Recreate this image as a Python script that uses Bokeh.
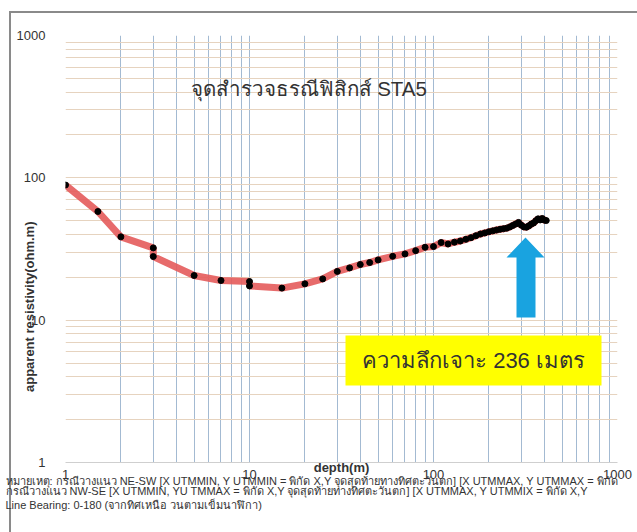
from bokeh.plotting import figure
from bokeh.models import (Label, BoxAnnotation, PolyAnnotation, FixedTicker,
                          Title)
from bokeh.embed import file_html
from bokeh.resources import INLINE

# VES sounding STA5: electrode spacing / depth (m) vs apparent resistivity (ohm.m)
depth = [1, 1.5, 2, 3, 3, 5, 7, 10, 10, 15, 20, 25, 30, 35, 40, 45, 50, 60, 70,
         80, 90, 100, 110, 120, 130, 140, 150, 160, 170, 180, 190, 200, 210,
         220, 230, 240, 250, 260, 270, 280, 290, 300, 310, 320, 330, 340, 350,
         360, 370, 380, 390, 400, 410]
resistivity = [89, 58, 38.5, 32.2, 28.0, 20.6, 19.0, 18.7, 17.4, 16.8, 18.0,
               19.5, 22.0, 23.3, 24.6, 25.4, 26.5, 28.1, 29.2, 30.8, 32.5, 32.9,
               35.1, 34.3, 35.3, 36.0, 37.0, 38.0, 39.2, 40.3, 41.0, 41.8, 42.4,
               43.0, 43.5, 43.9, 44.3, 45.2, 46.3, 47.4, 48.6, 46.5, 45.2, 45.0,
               46.0, 47.3, 48.2, 50.0, 51.5, 50.6, 51.8, 50.5, 50.1]

major_ticks = [1, 10, 100, 1000]
tick_labels = {1: "1", 10: "10", 100: "100", 1000: "1000"}

title_text = "จุดสำรวจธรณีฟิสิกส์ STA5"
drill_text = "ความลึกเจาะ 236 เมตร"
x_title = "depth(m)"
y_title = "apparent resistivity(ohm.m)"
notes = [
    "หมายเหตุ: กรณีวางแนว NE-SW [X UTMMIN, Y UTMMIN = พิกัด X,Y จุดสุดท้ายทางทิศตะวันตก]  [X UTMMAX, Y UTMMAX = พิกัด",
    "กรณีวางแนว NW-SE [X UTMMIN, YU TMMAX = พิกัด X,Y จุดสุดท้ายทางทิศตะวันตก]  [X UTMMAX, Y UTMMIX = พิกัด X,Y",
    "Line Bearing: 0-180 (จากทิศเหนือ วนตามเข็มนาฬิกา)",
]

FONT = "Liberation Sans"
FRAME_GREY = "#8a8a8a"
NBSP = "\u00a0"

p = figure(width=637, height=532, x_axis_type="log", y_axis_type="log",
           x_range=(1, 1000), y_range=(1, 1000),
           output_backend="svg", toolbar_location=None,
           min_border_left=65, min_border_right=20,
           min_border_top=35, min_border_bottom=70)
p.outline_line_color = None
p.background_fill_color = "white"
# transparent border so the sheet frame drawn by the page shows through
p.border_fill_color = None
p.styles = {
    "background": (
        f"linear-gradient({FRAME_GREY},{FRAME_GREY}) 9px 11px / 2px 530px no-repeat,"
        f"linear-gradient({FRAME_GREY},{FRAME_GREY}) 9px 11px / 640px 2px no-repeat,"
        "white"
    )
}

minor = [m * 10 ** k for k in range(3) for m in range(2, 10)]
for ax in (p.xaxis[0], p.yaxis[0]):
    ax.ticker = FixedTicker(ticks=major_ticks, minor_ticks=minor)
    ax.major_label_overrides = tick_labels
    ax.major_tick_line_color = None
    ax.minor_tick_line_color = None
    ax.major_label_text_font = FONT
    ax.major_label_text_font_size = "13px"
    ax.major_label_text_color = "#333333"
    ax.axis_label_text_font = FONT
    ax.axis_label_text_font_size = "13px"
    ax.axis_label_text_font_style = "bold"
    ax.axis_label_text_color = "#333333"
p.xaxis.axis_line_color = "#cfcfcf"
p.yaxis.axis_line_color = None
p.xaxis.major_label_standoff = 1
p.yaxis.major_label_standoff = 14
p.xaxis.axis_label = x_title
p.xaxis.axis_label_standoff = -22
# trailing spaces push the rotated title towards the lower part of the axis
p.yaxis.axis_label = y_title + NBSP * 32
p.yaxis.axis_label_standoff = -23

# vertical grid: blue-grey, horizontal grid: pale tan
p.xgrid.grid_line_color = "#a3bad2"
p.xgrid.minor_grid_line_color = "#a3bad2"
p.ygrid.grid_line_color = "#e6d3bf"
p.ygrid.minor_grid_line_color = "#e6d3bf"

# sounding curve
p.line(depth, resistivity, line_width=7, color="#e45b5b", alpha=0.9)
p.scatter(depth, resistivity, size=6, color="black")

# drilling-depth callout
p.add_layout(BoxAnnotation(left=280, right=536, top=127, bottom=77,
                           left_units="screen", right_units="screen",
                           top_units="screen", bottom_units="screen",
                           fill_color="#ffff00", fill_alpha=1, line_color=None))
p.add_layout(Label(x=408, y=102, x_units="screen", y_units="screen",
                   text=drill_text, text_font=FONT, text_font_size="22px",
                   text_color="#333333", text_align="center",
                   text_baseline="middle"))
p.add_layout(PolyAnnotation(xs=[460, 479, 470, 470, 451, 451, 441],
                            ys=[225, 205, 205, 145, 145, 205, 205],
                            xs_units="screen", ys_units="screen",
                            fill_color="#19a3e0", fill_alpha=1, line_color=None))

# chart title inside the plot
p.add_layout(Label(x=125, y=374, x_units="screen", y_units="screen",
                   text=title_text, text_font=FONT, text_font_size="20.5px",
                   text_color="#333333", text_baseline="middle"))

# notes under the chart
for i, line in enumerate(notes):
    p.add_layout(Title(text=line, align="left", offset=-60,
                       standoff=-9 if i == 0 else 0,
                       text_font=FONT, text_font_size="11px",
                       text_font_style="normal", text_color="#333333"),
                 "below")

open("out.html", "w").write(file_html(p, INLINE))
